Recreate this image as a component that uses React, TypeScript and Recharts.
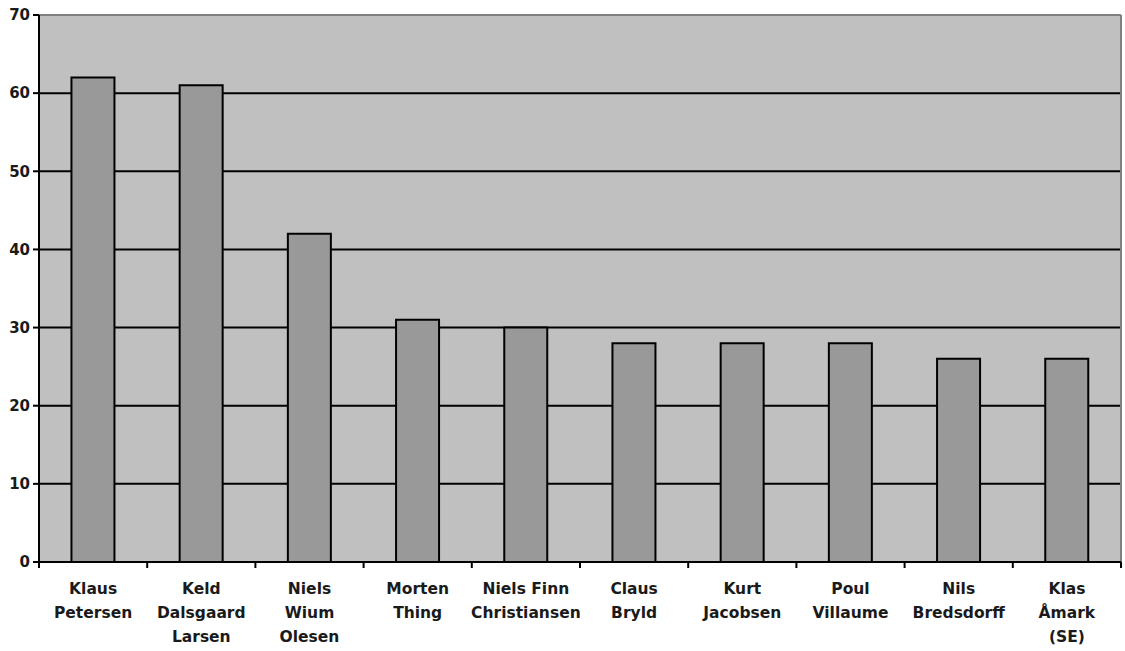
import React from "react";
import { BarChart, Bar, XAxis, YAxis, CartesianGrid } from "recharts";

const names = [
  "Klaus\nPetersen",
  "Keld\nDalsgaard\nLarsen",
  "Niels\nWium\nOlesen",
  "Morten\nThing",
  "Niels Finn\nChristiansen",
  "Claus\nBryld",
  "Kurt\nJacobsen",
  "Poul\nVillaume",
  "Nils\nBredsdorff",
  "Klas\nÅmark\n(SE)",
];
const counts = [62, 61, 42, 31, 30, 28, 28, 28, 26, 26];
const yTicks = [0, 10, 20, 30, 40, 50, 60, 70];

const data = names.map((name, i) => ({ name, count: counts[i] }));

const W = 1125;
const H = 651;
const MARGIN = { top: 15, right: 4, left: 0, bottom: 0 };
const Y_W = 39;
const PLOT_W = W - MARGIN.left - MARGIN.right - Y_W;
const FONT = "'DejaVu Sans', sans-serif";

function XTick(props: any) {
  const { x, y, payload, index } = props;
  const band = PLOT_W / names.length;
  const lines = String(payload.value).split("\n");
  return (
    <g>
      <line x1={x - band / 2} x2={x - band / 2} y1={y} y2={y + 6} stroke="#000" strokeWidth={2} />
      {index === names.length - 1 && (
        <line x1={x + band / 2} x2={x + band / 2} y1={y} y2={y + 6} stroke="#000" strokeWidth={2} />
      )}
      <text x={x} y={y + 32} textAnchor="middle" fontFamily={FONT} fontWeight={700} fontSize={15.5} fill="#1a1a1a">
        {lines.map((l, i) => (
          <tspan key={i} x={x} dy={i === 0 ? 0 : 24}>
            {l}
          </tspan>
        ))}
      </text>
    </g>
  );
}

export default function App() {
  return (
    <div style={{ position: "absolute", left: 0, top: 0, width: W, height: H, background: "#fff" }}>
      <BarChart width={W} height={H} data={data} margin={MARGIN} barCategoryGap="30%">
        <CartesianGrid fill="#C0C0C0" stroke="#000" strokeWidth={2} vertical={false} />
        <CartesianGrid
          fill="none"
          stroke="#808080"
          strokeWidth={2}
          horizontalCoordinatesGenerator={({ offset }: any) => [offset.top]}
          verticalCoordinatesGenerator={({ offset }: any) => [offset.left + offset.width]}
        />
        <XAxis
          dataKey="name"
          interval={0}
          height={89}
          tickSize={0}
          tickMargin={0}
          tickLine={false}
          axisLine={{ stroke: "#000", strokeWidth: 2 }}
          tick={<XTick />}
        />
        <YAxis
          width={Y_W}
          domain={[0, 70]}
          ticks={yTicks}
          interval={0}
          tickSize={6}
          tickMargin={3}
          axisLine={{ stroke: "#000", strokeWidth: 2 }}
          tickLine={{ stroke: "#000", strokeWidth: 2 }}
          tick={{ fontFamily: FONT, fontWeight: 700, fontSize: 15, fill: "#1a1a1a" }}
        />
        <Bar dataKey="count" fill="#999999" stroke="#000" strokeWidth={2} isAnimationActive={false} />
      </BarChart>
    </div>
  );
}
